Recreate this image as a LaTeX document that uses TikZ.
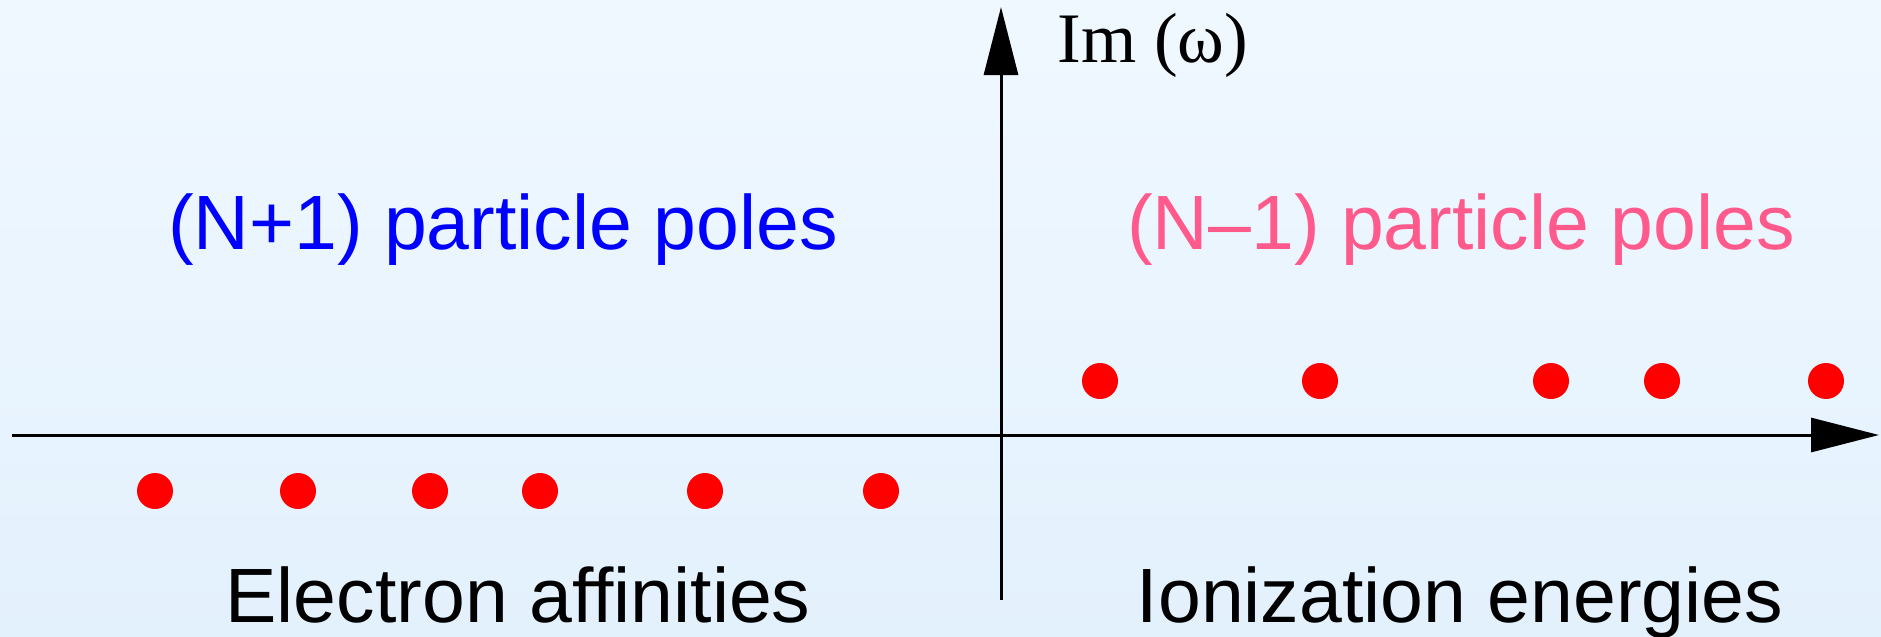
\documentclass[tikz,border=0pt]{standalone}
\usepackage{fontspec}
\setmainfont{Liberation Sans}
\newfontfamily\timesfont{Liberation Serif}
\usepackage{tikz}
\usetikzlibrary{arrows.meta,positioning}
\definecolor{bgtop}{RGB}{240,248,255}
\definecolor{bgbot}{RGB}{227,241,253}
\definecolor{polered}{RGB}{255,0,0}
\definecolor{ionpink}{RGB}{255,90,140}
\definecolor{eablue}{RGB}{0,0,255}

\begin{document}
\begin{tikzpicture}[x=0.5pt,y=-0.5pt,
  axis/.style={line width=1.5pt,-{Triangle[length=34pt,width=17pt]}},
  pole/.style={circle,fill=polered,inner sep=0pt,minimum size=18pt},
  lbl/.style={anchor=base,inner sep=0pt,font=\fontsize{38.5pt}{40pt}\selectfont}]
\shade[top color=bgtop,bottom color=bgbot] (0,0) rectangle (1881,637);
\useasboundingbox (0,0) rectangle (1881,637);
\coordinate (xl) at (12,435); \coordinate (xr) at (1879,435);
\coordinate (yb) at (1001,600); \coordinate (yt) at (1001,7);
\draw[axis] (xl)--(xr); \draw[axis] (yb)--(yt);
\node[lbl,anchor=base west,font=\timesfont\fontsize{35.5pt}{37pt}\selectfont] (im) at (1057,62) {Im (ω)};
\node[lbl,text=eablue] (np) at (503,249) {(N+1) particle poles};
\node[lbl,text=ionpink] (nm) at (1461,249) {(N–1) particle poles};
\node[lbl] (ea) at (518,622) {Electron affinities};
\node[lbl] (ie) at (1460,622) {Ionization energies};
\foreach \x [count=\i] in {155,298,430,540,705,881}
  \node[pole] (a\i) at (\x,491) {};
\foreach \x [count=\i] in {1100,1320,1551,1662,1826}
  \node[pole] (p\i) at (\x,381) {};
\end{tikzpicture}
\end{document}
